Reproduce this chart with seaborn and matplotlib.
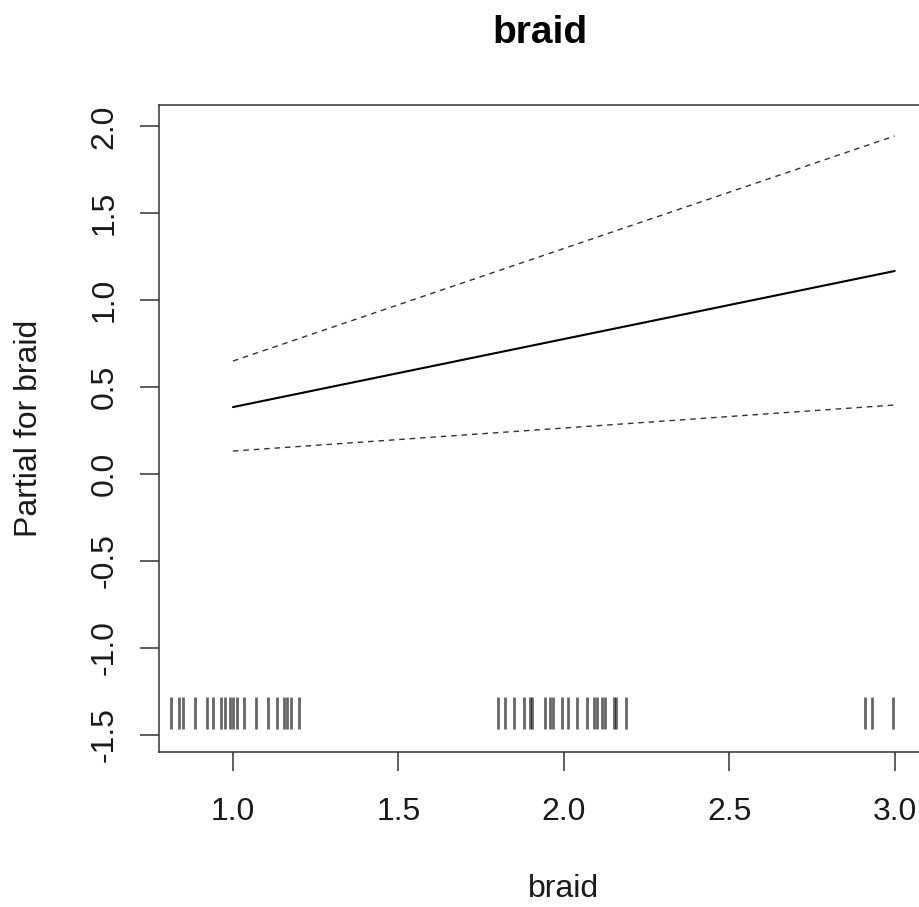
import matplotlib
matplotlib.use("Agg")
import matplotlib.pyplot as plt
import seaborn as sns
import pandas as pd
import numpy as np

# Data
term_x = [1.0, 3.0]
fit = [0.385, 1.168]
upper = [0.650, 1.945]
lower = [0.132, 0.397]
rug_x = [0.813, 0.838, 0.850, 0.885, 0.922, 0.939, 0.964, 0.976, 0.991, 0.999,
         1.011, 1.034, 1.069, 1.107, 1.132, 1.154, 1.162, 1.174, 1.200,
         1.802, 1.822, 1.849, 1.880, 1.897, 1.905, 1.943, 1.958, 1.966, 1.996,
         2.013, 2.040, 2.070, 2.091, 2.101, 2.114, 2.124, 2.151, 2.159, 2.187,
         2.909, 2.931, 2.995]
xticks = [1.0, 1.5, 2.0, 2.5, 3.0]
yticks = [-1.5, -1.0, -0.5, 0.0, 0.5, 1.0, 1.5, 2.0]

sns.set_style("ticks")
plt.rcParams['font.family'] = ['Liberation Sans', 'DejaVu Sans']

fig = plt.figure(figsize=(9.19, 9.07), dpi=100)
ax = fig.add_axes([0.173, 0.1709, 0.881, 0.7133])

df = pd.DataFrame({"x": term_x, "fit": fit, "upper": upper, "lower": lower})
sns.lineplot(data=df, x="x", y="fit", ax=ax, color="black", linewidth=1.5)
sns.lineplot(data=df, x="x", y="upper", ax=ax, color="#333333", linewidth=1.0,
             dashes=False)
sns.lineplot(data=df, x="x", y="lower", ax=ax, color="#333333", linewidth=1.0,
             dashes=False)
ax.lines[1].set_dashes((4, 3.5))
ax.lines[2].set_dashes((4, 3.5))

ax.vlines(rug_x, -1.467, -1.283, color="black", linewidth=2.0, alpha=0.6)

ax.set_xlim(0.7764, 3.2236)
ax.set_ylim(-1.5995, 2.123)
ax.set_xticks(xticks)
ax.set_xticklabels([f"{v:.1f}" for v in xticks])
ax.set_yticks(yticks)
ax.set_yticklabels([f"{v:.1f}" for v in yticks], rotation=90, va="center")

for s in ax.spines.values():
    s.set_color("#333333")
    s.set_linewidth(1.1)
    s.set_visible(True)

ax.tick_params(axis="both", length=13.5, width=1.1, color="#333333",
               labelsize=23, labelcolor="#1a1a1a")
ax.tick_params(axis="x", pad=19)
ax.tick_params(axis="y", pad=15)

ax.set_xlabel("braid", fontsize=23, color="#1a1a1a", labelpad=34)
ax.set_ylabel("Partial for braid", fontsize=23, color="#1a1a1a", labelpad=33)
fig.text(0.588, 0.964, "braid", fontsize=28, fontweight="bold", ha="center",
         va="center", color="black")

fig.savefig("out.png", dpi=100)
